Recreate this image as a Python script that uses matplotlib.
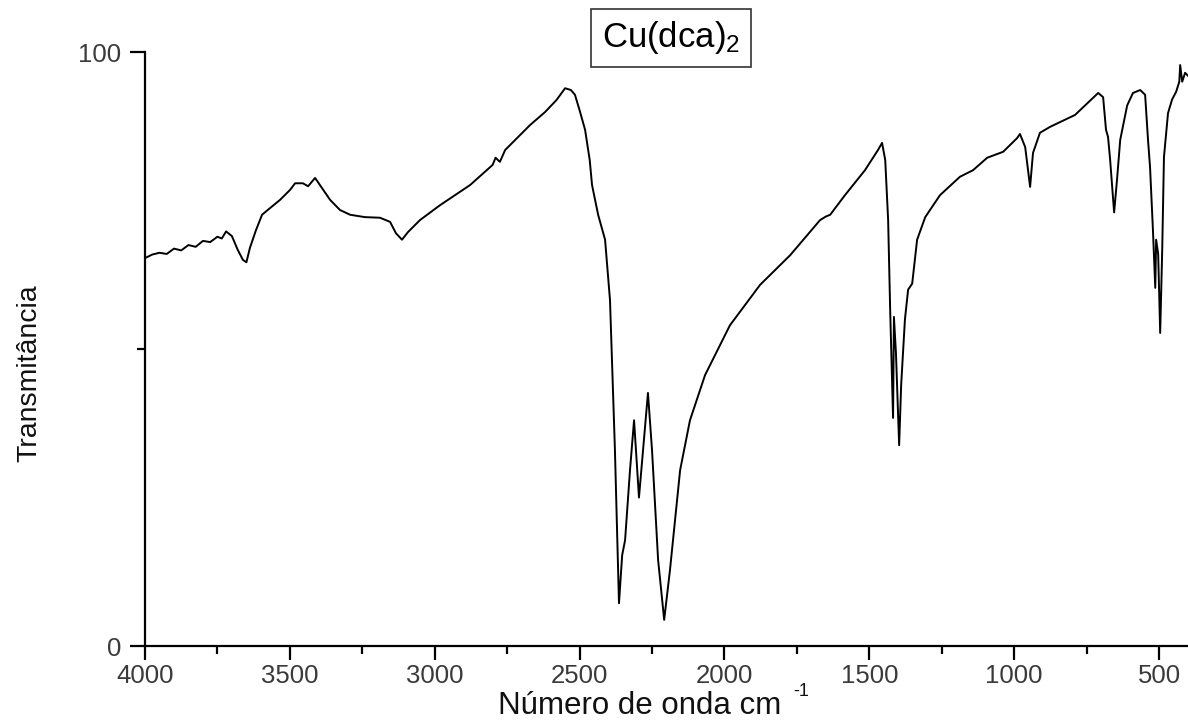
import matplotlib
matplotlib.use("Agg")
import matplotlib.pyplot as plt
from matplotlib.ticker import MultipleLocator, FixedLocator

plt.rcParams['font.family'] = ['Liberation Sans', 'DejaVu Sans']
plt.rcParams['mathtext.fontset'] = 'custom'
plt.rcParams['mathtext.rm'] = 'Liberation Sans'
plt.rcParams['mathtext.it'] = 'Liberation Sans'

# wavenumber (cm-1) and transmittance (%)
wavenumber = [
    4000, 3975, 3950, 3925, 3900, 3875, 3850, 3825, 3800, 3775, 3750, 3735, 3720,
    3700, 3680, 3662, 3650, 3638, 3617, 3596, 3569, 3534, 3499, 3482, 3455, 3437,
    3413, 3396, 3361, 3327, 3292, 3241, 3189, 3154, 3134, 3113, 3092, 3051, 2982,
    2878, 2800, 2790, 2775, 2757, 2671, 2619, 2580, 2550, 2530, 2516, 2500, 2481,
    2465, 2457, 2436, 2412, 2395, 2378, 2364, 2353, 2343, 2326, 2312, 2295, 2284,
    2264, 2250, 2229, 2208, 2188, 2153, 2119, 2067, 1981, 1877, 1773, 1670, 1650,
    1635, 1584, 1515, 1470, 1456, 1445, 1435, 1428, 1418, 1415, 1408, 1397, 1390,
    1377, 1366, 1352, 1335, 1307, 1256, 1187, 1142, 1093, 1038, 990, 980, 962, 945,
    935, 911, 876, 790, 710, 693, 683, 676, 669, 655, 645, 634, 610, 590, 565, 548,
    538, 531, 521, 513, 510, 503, 496, 489, 483, 469, 455, 441, 430, 427, 420, 410,
    400,
]
transmittance = [
    65.3, 65.9, 66.2, 66.0, 66.9, 66.6, 67.5, 67.2, 68.2, 68.0, 68.9, 68.6, 69.8,
    69.0, 66.7, 65.0, 64.6, 67.0, 70.0, 72.6, 73.7, 75.1, 76.8, 77.9, 77.9, 77.4,
    78.8, 77.6, 75.1, 73.4, 72.6, 72.2, 72.1, 71.4, 69.5, 68.4, 69.7, 71.7, 74.2,
    77.6, 81.0, 82.2, 81.5, 83.5, 87.7, 89.9, 91.9, 93.9, 93.6, 92.8, 90.2, 86.9,
    81.8, 77.6, 72.6, 68.4, 58.2, 33.0, 7.2, 15.3, 17.8, 29.6, 38.0, 25.0, 31.3,
    42.6, 33.0, 14.5, 4.4, 12.8, 29.6, 38.0, 45.6, 54.0, 60.8, 65.8, 71.7, 72.3,
    72.6, 75.9, 80.1, 83.5, 84.7, 81.8, 71.7, 56.6, 38.4, 55.4, 49.3, 33.8, 44.0,
    55.0, 60.0, 61.0, 68.4, 72.2, 75.9, 79.0, 80.1, 82.2, 83.2, 85.5, 86.2, 84.0, 77.3,
    83.0, 86.4, 87.4, 89.4, 93.1, 92.4, 86.9, 85.7, 82.0, 73.0, 78.5, 85.2, 91.0, 93.1,
    93.6, 92.8, 85.2, 80.6, 70.0, 60.3, 68.4, 66.0, 52.7, 66.7, 82.3, 89.7, 92.0,
    93.3, 95.0, 97.8, 95.0, 96.5, 96.0,
]

title_text = "Cu(dca)$_2$"
x_label = "Número de onda cm"
x_label_exp = "-1"
y_label = "Transmitância"
x_major = [4000, 3500, 3000, 2500, 2000, 1500, 1000, 500]
y_major = [0, 100]

W, H = 1188, 727
fig = plt.figure(figsize=(W / 100, H / 100), dpi=100)
ax = fig.add_axes([145 / W, 81 / H, (W - 145) / W, 594 / H])

ax.plot(wavenumber, transmittance, color='black', linewidth=1.4)

ax.set_xlim(4000, 400)
ax.set_ylim(0, 100)

ax.spines['top'].set_visible(False)
ax.spines['right'].set_visible(False)
for s in ('left', 'bottom'):
    ax.spines[s].set_linewidth(1.6)

ax.xaxis.set_major_locator(FixedLocator(x_major))
ax.xaxis.set_minor_locator(MultipleLocator(250))
ax.yaxis.set_major_locator(FixedLocator(y_major))
ax.yaxis.set_minor_locator(FixedLocator([50]))

ax.tick_params(axis='x', which='major', direction='out', length=10, width=1.6,
               labelsize=18.5, labelcolor='#3a3a3a', pad=3)
ax.tick_params(axis='x', which='minor', direction='out', length=6, width=1.6)
ax.tick_params(axis='y', which='major', direction='out', length=11, width=1.6,
               labelsize=18.5, labelcolor='#3a3a3a', pad=6)
ax.tick_params(axis='y', which='minor', direction='out', length=6, width=1.6)

ax.set_ylabel(y_label, fontsize=20.5, color='#111111')
ax.yaxis.set_label_coords(-0.098, 0.46)

# x label with a small raised "-1"
xl = fig.text(640 / W, 1 - 706 / H, x_label, fontsize=22.5, ha='center',
              va='center', color='#111111')
fig.canvas.draw()
bb = xl.get_window_extent(renderer=fig.canvas.get_renderer())
fig.text((bb.x1 + 12) / W, 1 - 692 / H, x_label_exp, fontsize=13,
         ha='left', va='center', color='#111111')

fig.text(671 / W, 1 - 38 / H, title_text, fontsize=25, ha='center', va='center',
         bbox=dict(boxstyle='square,pad=0.3', facecolor='white',
                   edgecolor='#333333', linewidth=1.2))

fig.savefig('out.png', dpi=100)
